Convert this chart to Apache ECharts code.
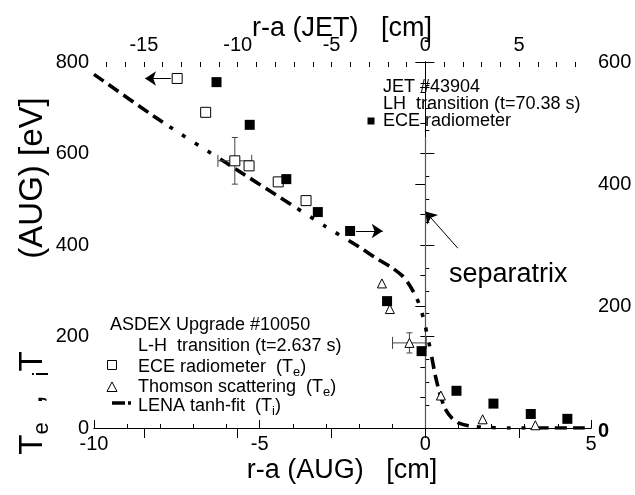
<!DOCTYPE html>
<html>
<head>
<meta charset="utf-8">
<script src="https://cdn.jsdelivr.net/npm/echarts@6/dist/echarts.min.js"></script>
<style>html,body{margin:0;padding:0;background:#fff}#c{width:635px;height:495px}</style>
</head>
<body>
<div id="c"></div>
<script>
// ---- data ----
// ASDEX Upgrade ECE radiometer (Te), bottom axis (AUG r-a, cm), left axis (eV)
const augEceX = [-7.49, -6.63, -5.75, -5.32, -4.44, -3.60];
const augEceY = [764, 690, 584, 573, 538, 497];
// ASDEX Upgrade Thomson scattering (Te)
const augTsX = [-1.31, -1.07, -0.48, 0.47, 1.73, 3.32];
const augTsY = [316, 260, 186, 71, 19, 6];
// LENA tanh-fit (Ti)
const lenaX = [-10, -8, -6, -4, -3, -2, -1.5, -1.0, -0.7, -0.5, -0.3, -0.15, 0, 0.15, 0.3, 0.45, 0.6, 0.8, 1.0, 1.3, 1.7, 2.5, 5];
const lenaY = [773, 672, 579, 486, 440, 396, 372, 350, 333, 315, 290, 264, 222, 172, 115, 72, 42, 22, 11, 5, 2, 0, 0];
// JET ECE radiometer, top axis (JET r-a, cm), right axis (eV)
const jetEceX = [-11.13, -9.36, -7.41, -5.73, -4.01, -2.04, -0.20, 1.66, 3.63, 5.62, 7.57];
const jetEceY = [567, 497, 408, 354, 323, 208, 126, 61, 40, 23, 15];
// error bars [x, y, xErr, yErr]
const augEceErr = [[-5.75, 584, 0.51, 51]];
const augTsErr = [[-0.48, 186, 0.51, 22]];
// axis ticks
const jetTicks = [-15, -10, -5, 0, 5];
const jetMinorTicks = [-17,-16,-15,-14,-13,-12,-11,-10,-9,-8,-7,-6,-5,-4,-3,-2,-1,0,1,2,3,4,5,6,7,8];
// annotation arrows (data coordinates)
const arrowAugEce = [[-7.68, 764], [-8.46, 764]];
const arrowJetEce = [[-3.69, 323], [-2.27, 323]];
const separatrixLine = [[0, 636], [0, 0]];
const separatrixArrow = [[0.98, 393], [0, 473]];

const FF = '"Liberation Sans", Arial, Helvetica, sans-serif';
const BLACK = '#000';

const chart = echarts.init(document.getElementById('c'), null, {renderer: 'canvas'});

function errRender(params, api) {
  const x = api.value(0), y = api.value(1), ex = api.value(2), ey = api.value(3);
  const l = api.coord([x - ex, y]), r = api.coord([x + ex, y]);
  const t = api.coord([x, y + ey]), b = api.coord([x, y - ey]);
  const st = {stroke: '#444', lineWidth: 1};
  const capH = 6, capW = 3;
  return {
    type: 'group',
    children: [
      {type: 'line', shape: {x1: l[0], y1: l[1], x2: r[0], y2: r[1]}, style: st},
      {type: 'line', shape: {x1: l[0], y1: l[1] - capH, x2: l[0], y2: l[1] + capH}, style: st},
      {type: 'line', shape: {x1: r[0], y1: r[1] - capH, x2: r[0], y2: r[1] + capH}, style: st},
      {type: 'line', shape: {x1: t[0], y1: t[1], x2: b[0], y2: b[1]}, style: st},
      {type: 'line', shape: {x1: t[0] - capW, y1: t[1], x2: t[0] + capW, y2: t[1]}, style: st},
      {type: 'line', shape: {x1: b[0] - capW, y1: b[1], x2: b[0] + capW, y2: b[1]}, style: st}
    ]
  };
}

const zip = (a, b) => a.map((v, i) => [v, b[i]]);
const lenaDash = [12, 6, 12, 6, 12, 6, 12, 6, 12, 8, 4, 11, 4, 11, 4, 11, 4, 11];

const axisLineStyle = {show: true, lineStyle: {color: BLACK, width: 1}};
const lblStyle = {color: BLACK, fontSize: 20, fontFamily: FF};

const subRich = {
  s: {fontSize: 13, fontFamily: FF, fill: BLACK, verticalAlign: 'bottom', lineHeight: 14}
};
const bigSub = {
  s: {fontSize: 22, fontFamily: FF, fill: BLACK, verticalAlign: 'bottom', lineHeight: 22}
};

const option = {
  animation: false,
  backgroundColor: '#fff',
  grid: {left: 94, right: 44, top: 62, bottom: 67, containLabel: false},
  xAxis: [
    {
      type: 'value', position: 'bottom', min: -10, max: 5, interval: 5,
      axisLine: axisLineStyle,
      axisTick: {inside: true, length: 8, lineStyle: {color: BLACK}},
      minorTick: {show: true, splitNumber: 5, length: 4, lineStyle: {color: BLACK}},
      splitLine: {show: false}, minorSplitLine: {show: false},
      axisLabel: Object.assign({margin: 6}, lblStyle)
    },
    {
      type: 'value', position: 'top', min: -17.66, max: 8.83,
      axisLine: axisLineStyle,
      axisTick: {inside: true, length: 10, customValues: jetTicks, lineStyle: {color: BLACK}},
      splitLine: {show: false},
      axisLabel: Object.assign({margin: 7, customValues: jetTicks}, lblStyle)
    },
    {
      type: 'value', position: 'top', min: -17.66, max: 8.83,
      axisLine: {show: false},
      axisTick: {inside: true, length: 5, customValues: jetMinorTicks, lineStyle: {color: BLACK}},
      splitLine: {show: false},
      axisLabel: {show: false}
    }
  ],
  yAxis: [
    {
      type: 'value', position: 'left', min: 0, max: 800, interval: 200,
      axisLine: axisLineStyle,
      axisTick: {inside: true, length: 9, lineStyle: {color: BLACK}},
      minorTick: {show: true, splitNumber: 4, length: 4, lineStyle: {color: BLACK}},
      splitLine: {show: false},
      axisLabel: Object.assign({margin: 5}, lblStyle)
    },
    {
      type: 'value', position: 'right', min: 0, max: 600, interval: 200,
      axisLine: axisLineStyle,
      axisTick: {inside: true, length: 10, lineStyle: {color: BLACK}},
      minorTick: {show: true, splitNumber: 4, length: 5, lineStyle: {color: BLACK}},
      splitLine: {show: false},
      axisLabel: Object.assign({
        margin: 7,
        formatter: v => v === 0 ? '{b|0}' : String(v),
        rich: {b: {fontWeight: 'bold', fontSize: 20, fontFamily: FF, color: BLACK, padding: [6, 0, 0, 0]}}
      }, lblStyle)
    }
  ],
  series: [
    {
      name: 'separatrix', type: 'lines', coordinateSystem: 'cartesian2d',
      xAxisIndex: 0, yAxisIndex: 0, polyline: false, silent: true,
      symbol: ['none', 'none'],
      lineStyle: {color: '#555', width: 1.2, opacity: 1},
      data: [{coords: separatrixLine}], z: 1
    },
    {
      name: 'LENA tanh-fit', type: 'line', xAxisIndex: 0, yAxisIndex: 0,
      data: zip(lenaX, lenaY), showSymbol: false, symbol: 'none', smooth: 0.25,
      lineStyle: {color: BLACK, width: 3.6, type: lenaDash, cap: 'butt'}, z: 2
    },
    {
      name: 'errAug', type: 'custom', xAxisIndex: 0, yAxisIndex: 0,
      renderItem: errRender, data: augEceErr.concat(augTsErr), z: 3, silent: true
    },
    {
      name: 'ECE AUG', type: 'scatter', xAxisIndex: 0, yAxisIndex: 0,
      symbol: 'rect', symbolSize: 10,
      itemStyle: {color: '#fff', borderColor: BLACK, borderWidth: 1, opacity: 1},
      data: zip(augEceX, augEceY), z: 4
    },
    {
      name: 'Thomson', type: 'scatter', xAxisIndex: 0, yAxisIndex: 0,
      symbol: 'triangle', symbolSize: [9, 9],
      itemStyle: {color: '#fff', borderColor: BLACK, borderWidth: 1, opacity: 1},
      data: zip(augTsX, augTsY), z: 4
    },
    {
      name: 'ECE JET', type: 'scatter', xAxisIndex: 1, yAxisIndex: 1,
      symbol: 'rect', symbolSize: 10,
      itemStyle: {color: BLACK, opacity: 1},
      data: zip(jetEceX, jetEceY), z: 4
    },
    {
      name: 'arrowsAug', type: 'lines', coordinateSystem: 'cartesian2d',
      xAxisIndex: 0, yAxisIndex: 0, silent: true,
      symbol: ['none', 'arrow'], symbolSize: [9, 11],
      lineStyle: {color: BLACK, width: 1, opacity: 1},
      data: [{coords: arrowAugEce}, {coords: separatrixArrow}], z: 5
    },
    {
      name: 'arrowsJet', type: 'lines', coordinateSystem: 'cartesian2d',
      xAxisIndex: 1, yAxisIndex: 1, silent: true,
      symbol: ['none', 'arrow'], symbolSize: [9, 11],
      lineStyle: {color: BLACK, width: 1, opacity: 1},
      data: [{coords: arrowJetEce}], z: 5
    }
  ],
  graphic: [
    {type: 'text', x: 342, y: 29, style: {text: 'r-a (JET)   [cm]', fontSize: 27, fontFamily: FF, fill: BLACK, align: 'center', verticalAlign: 'middle'}},
    {type: 'text', x: 342, y: 471, style: {text: 'r-a (AUG)   [cm]', fontSize: 27, fontFamily: FF, fill: BLACK, align: 'center', verticalAlign: 'middle'}},
    {type: 'text', x: 33, y: 403, rotation: Math.PI / 2,
      style: {text: 'T{s|e}  ,  {s|i}T', fontSize: 33, fontFamily: FF, fill: BLACK, align: 'center', verticalAlign: 'middle', lineHeight: 40, rich: bigSub}},
    {type: 'text', x: 33, y: 178, rotation: Math.PI / 2,
      style: {text: '(AUG) [eV]', fontSize: 33, fontFamily: FF, fill: BLACK, align: 'center', verticalAlign: 'middle'}},
    {type: 'text', x: 449, y: 275, style: {text: 'separatrix', fontSize: 27, fontFamily: FF, fill: BLACK, align: 'left', verticalAlign: 'middle'}},
    // JET block
    {type: 'text', x: 383, y: 87, style: {text: 'JET #43904', fontSize: 18, fontFamily: FF, fill: BLACK, align: 'left', verticalAlign: 'middle'}},
    {type: 'text', x: 383, y: 104, style: {text: 'LH  transition (t=70.38 s)', fontSize: 18, fontFamily: FF, fill: BLACK, align: 'left', verticalAlign: 'middle'}},
    {type: 'rect', shape: {x: 367.5, y: 117.5, width: 7, height: 7}, style: {fill: BLACK}},
    {type: 'text', x: 383, y: 121, style: {text: 'ECE radiometer', fontSize: 18, fontFamily: FF, fill: BLACK, align: 'left', verticalAlign: 'middle'}},
    // ASDEX block
    {type: 'text', x: 110, y: 325, style: {text: 'ASDEX Upgrade #10050', fontSize: 18, fontFamily: FF, fill: BLACK, align: 'left', verticalAlign: 'middle'}},
    {type: 'text', x: 138, y: 346, style: {text: 'L-H  transition (t=2.637 s)', fontSize: 18, fontFamily: FF, fill: BLACK, align: 'left', verticalAlign: 'middle'}},
    {type: 'rect', shape: {x: 107.5, y: 360.5, width: 9, height: 9}, style: {fill: '#fff', stroke: BLACK, lineWidth: 1}},
    {type: 'text', x: 138, y: 367, style: {text: 'ECE radiometer  (T{s|e})', fontSize: 18, fontFamily: FF, fill: BLACK, align: 'left', verticalAlign: 'middle', lineHeight: 24, rich: subRich}},
    {type: 'polygon', shape: {points: [[112, 382], [117, 391.5], [107, 391.5]]}, style: {fill: '#fff', stroke: BLACK, lineWidth: 1}},
    {type: 'text', x: 138, y: 387, style: {text: 'Thomson scattering  (T{s|e})', fontSize: 18, fontFamily: FF, fill: BLACK, align: 'left', verticalAlign: 'middle', lineHeight: 24, rich: subRich}},
    {type: 'line', shape: {x1: 112, y1: 403, x2: 125, y2: 403}, style: {stroke: BLACK, lineWidth: 3.5}},
    {type: 'line', shape: {x1: 128, y1: 403, x2: 131, y2: 403}, style: {stroke: BLACK, lineWidth: 3.5}},
    {type: 'text', x: 138, y: 406, style: {text: 'LENA tanh-fit  (T{s|i})', fontSize: 18, fontFamily: FF, fill: BLACK, align: 'left', verticalAlign: 'middle', lineHeight: 24, rich: subRich}}
  ]
};
chart.setOption(option);
</script>
</body>
</html>
